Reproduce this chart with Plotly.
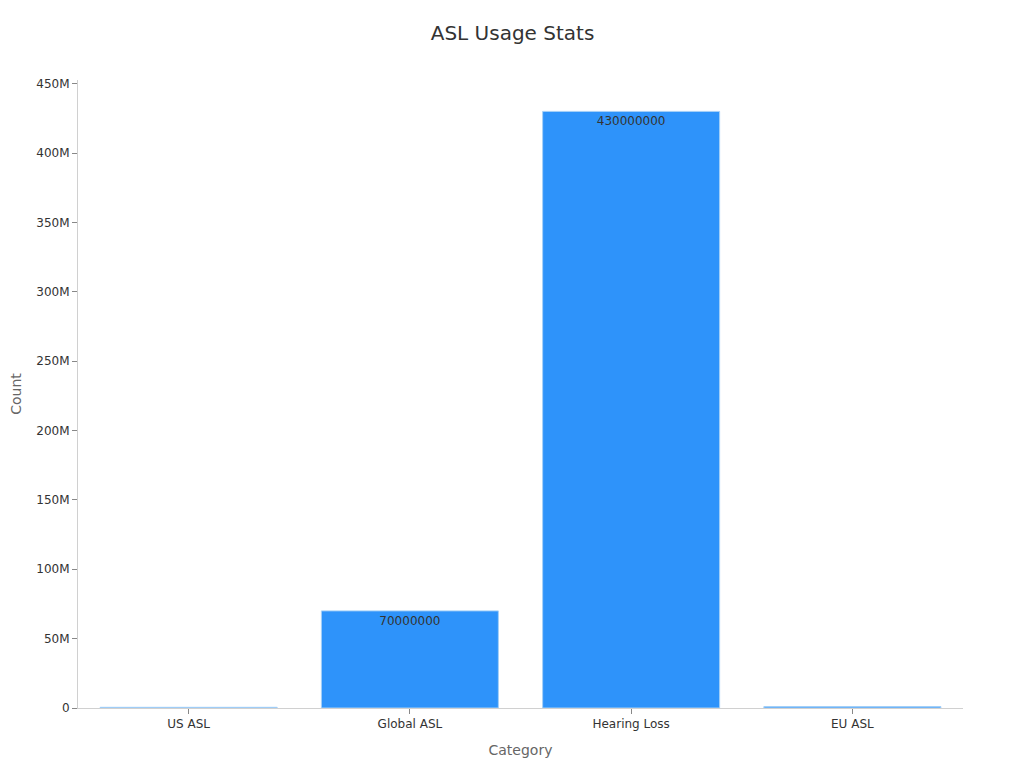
import plotly.graph_objects as go

categories = ["US ASL", "Global ASL", "Hearing Loss", "EU ASL"]
counts = [500000, 70000000, 430000000, 1000000]
text_labels = ["500000", "70000000", "430000000", "1000000"]

fig = go.Figure(
    go.Bar(
        x=categories,
        y=counts,
        text=text_labels,
        textposition="inside",
        insidetextanchor="end",
        textfont=dict(color="#333333", size=12),
        marker=dict(color="#2E93FA", line=dict(color="#A6D0F7", width=1)),
        width=0.8,
    )
)

fig.update_layout(
    width=1024,
    height=768,
    paper_bgcolor="white",
    plot_bgcolor="white",
    font=dict(family="DejaVu Sans", color="#333333", size=12),
    title=dict(text="ASL Usage Stats", x=0.4927, xanchor="center", y=0.967, yanchor="middle",
               font=dict(size=20, color="#333333")),
    margin=dict(l=70, r=69, t=72, b=68, autoexpand=False),
    uniformtext=dict(minsize=12, mode="hide"),
    showlegend=False,
)
fig.update_xaxes(
    title=dict(text="Category", font=dict(size=14, color="#666666"), standoff=14),
    showline=True, linecolor="#D0D0D0", linewidth=1,
    ticks="outside", ticklen=5, tickcolor="#888888",
    showgrid=False, automargin=False,
    tickfont=dict(size=12, color="#333333"),
)
fig.update_yaxes(
    title=dict(text="Count", font=dict(size=14, color="#666666"), standoff=17),
    showline=True, linecolor="#D0D0D0", linewidth=1,
    ticks="outside", ticklen=5, tickcolor="#888888",
    showgrid=False, zeroline=False, automargin=False,
    tickformat="~s", dtick=50000000,
    tickfont=dict(size=12, color="#333333"),
)

fig.write_html("out.html")
